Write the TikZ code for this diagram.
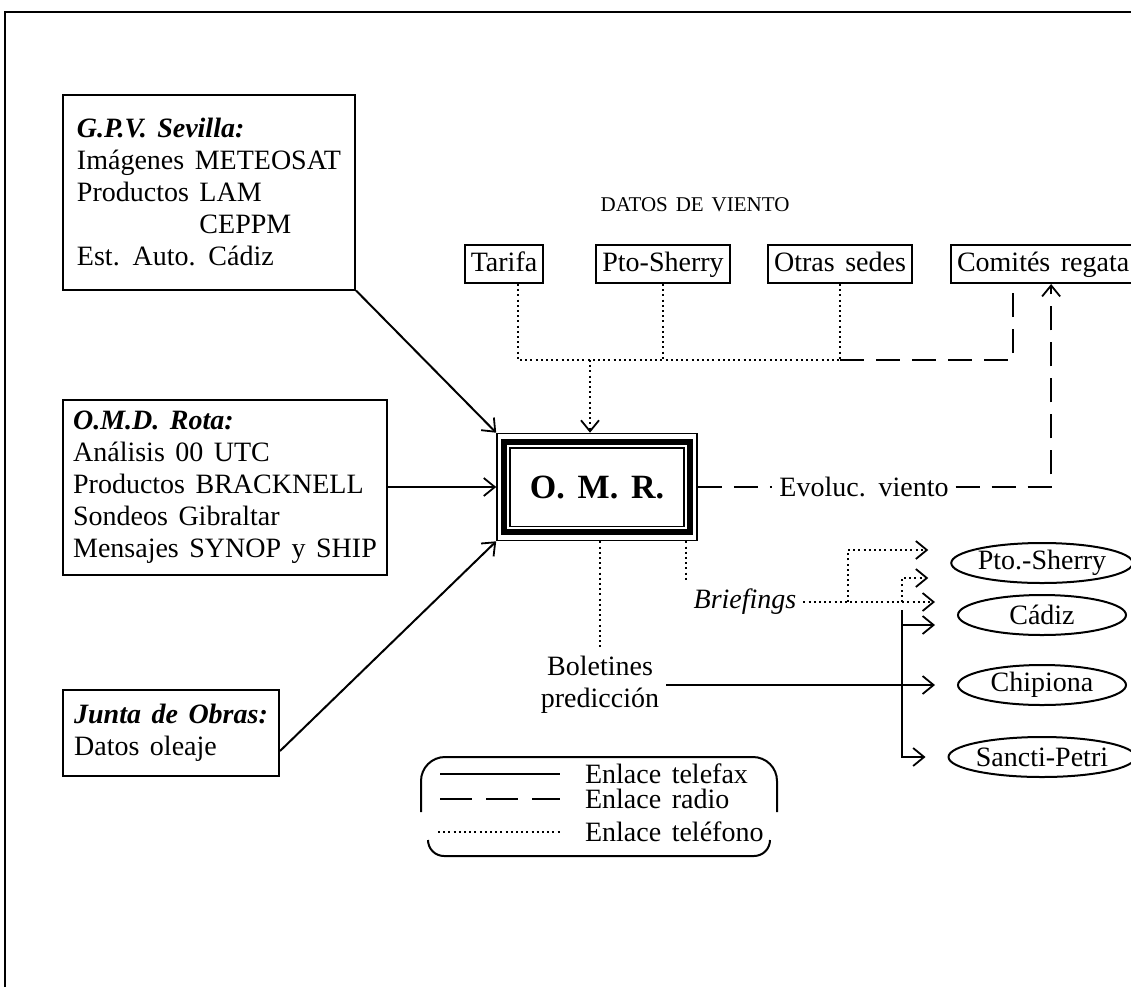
\documentclass[tikz,border=0pt]{standalone}
\usepackage{fontspec}
\setmainfont{Liberation Serif}[WordSpace=1.5]
\usetikzlibrary{arrows.meta,shapes.geometric,calc}

\begin{document}
\begin{tikzpicture}[x=0.5pt,y=-0.5pt,
  font=\fontsize{14pt}{16pt}\selectfont,
  >={Straight Barb[length=5.5pt,width=9pt,line width=0.9pt]},
  box/.style={draw,line width=1pt,align=left,inner sep=4pt},
  sede/.style={draw,line width=1pt,inner xsep=3pt,inner ysep=3pt,text height=10pt,text depth=3pt},
  puerto/.style={draw,ellipse,line width=1pt,minimum width=84pt,minimum height=20pt,inner sep=0pt},
  fax/.style={line width=1pt},
  radio/.style={line width=1pt,dash pattern=on 12pt off 6pt},
  tel/.style={line width=1.2pt,dash pattern=on 1pt off 1.6pt}]
\useasboundingbox (0,0) rectangle (1131,987);
\draw[line width=1pt] (5,987) |- (1131,12);

\node[box,minimum width=146pt,minimum height=97.5pt] (gpv) at (209,192)
  {\textbf{\textit{G.P.V. Sevilla:}}\\Imágenes METEOSAT\\Productos LAM\\\hphantom{Productos }CEPPM\\Est. Auto. Cádiz};
\node[box,minimum width=162pt,minimum height=87.5pt] (omd) at (225,487)
  {\textbf{\textit{O.M.D. Rota:}}\\Análisis 00 UTC\\Productos BRACKNELL\\Sondeos Gibraltar\\Mensajes SYNOP y SHIP};
\node[box,minimum width=108pt,minimum height=43pt] (junta) at (171,733)
  {\textbf{\textit{Junta de Obras:}}\\Datos oleaje};

\node[draw,line width=0.8pt,minimum width=100pt,minimum height=53.5pt,
  font=\fontsize{17pt}{20pt}\selectfont\bfseries] (omr) at (597,487) {O.\ M.\ R.};
\draw[line width=3pt] ([shift={(4pt,-4.5pt)}]omr.north west) rectangle ([shift={(-4pt,4.5pt)}]omr.south east);
\draw[line width=0.8pt] ([shift={(7pt,-7.5pt)}]omr.north west) rectangle ([shift={(-7pt,7.5pt)}]omr.south east);

\node[font=\fontsize{10.5pt}{12pt}\selectfont] (datos) at (695,205) {DATOS DE VIENTO};
\node[sede] (tarifa) at (504,264) {Tarifa};
\node[sede] (ptos) at (663,264) {Pto-Sherry};
\node[sede] (otras) at (840,264) {Otras sedes};
\node[sede,anchor=west] (comites) at (950,264) {Comités regata};

\coordinate (bar) at (590,360);
\draw[tel] ([xshift=7pt]tarifa.south) |- (otras.south |- bar);
\draw[tel] (ptos.south) -- (ptos.south |- bar);
\draw[tel] (otras.south) -- (otras.south |- bar);
\draw[radio] (otras.south |- bar) -| ([xshift=-15pt]comites.south);
\draw[tel,->] (bar) -- (bar |- omr.north);

\node (evol) at (864,487) {Evoluc. viento};
\draw[radio] (omr.east) -- (evol.west);
\draw[radio,->] (evol.east) -| ([xshift=4pt]comites.south);

\draw[fax,->] (gpv.south east) -- (omr.north west);
\draw[fax,->] (omd.east) -- (omd.east -| omr.west);
\draw[fax,->] ([yshift=-9pt]junta.east) -- (omr.south west);

\node[align=center] (bolet) at (600,685) {Boletines\\predicción};
\node[font=\fontsize{14pt}{16pt}\selectfont\itshape] (brief) at (745,602) {Briefings};
\coordinate (b2) at ([xshift=-6pt]omr.south east);
\draw[tel] (omr.south -| bolet.north) -- (bolet.north);
\draw[tel] (b2) -- (b2 |- brief.north);

\node[puerto] (psh) at (1042,563) {Pto.-Sherry};
\node[puerto] (cad) at (1042,615) {Cádiz};
\node[puerto] (chip) at (1042,685) {Chipiona};
\node[puerto] (sanc) at (1042,757) {Sancti-Petri};

\coordinate (s1) at (848,0);
\coordinate (s2) at (902,0);
\coordinate (s3) at (902,610);
\coordinate (cfax) at ([yshift=-5pt]cad.west);
\draw[tel,->,shorten >=11pt] (brief.east) -- (brief.east -| cad.west);
\draw[tel,->,shorten >=11pt] (brief.east -| s1) |- ([yshift=6.5pt]psh.west);
\draw[tel,->,shorten >=11pt] (brief.east -| s2) |- ([yshift=-7.5pt]psh.west);
\draw[fax,->,shorten >=11pt] (bolet.east) -- (bolet.east -| chip.west);
\draw[fax,->,shorten >=11pt] (s3) |- (sanc.west);
\draw[fax,->,shorten >=11pt] (cfax -| s2) -- (cfax);

\draw[fax,rounded corners=12pt] (421,812) |- (777,757) -- (777,812);
\draw[fax,rounded corners=8pt] (428,840) |- (770,856) -- (770,840);
\node[anchor=west] (lfax) at (578,774) {Enlace telefax};
\node[anchor=west] (lradio) at (578,799) {Enlace radio};
\node[anchor=west] (ltel) at (578,832) {Enlace teléfono};
\draw[fax] ([xshift=-69pt]lfax.west) -- ([xshift=-9pt]lfax.west);
\draw[radio,dash pattern=on 16pt off 7pt] ([xshift=-69pt]lradio.west) -- ([xshift=-9pt]lradio.west);
\draw[tel] ([xshift=-70pt]ltel.west) -- ([xshift=-8pt]ltel.west);
\end{tikzpicture}
\end{document}
